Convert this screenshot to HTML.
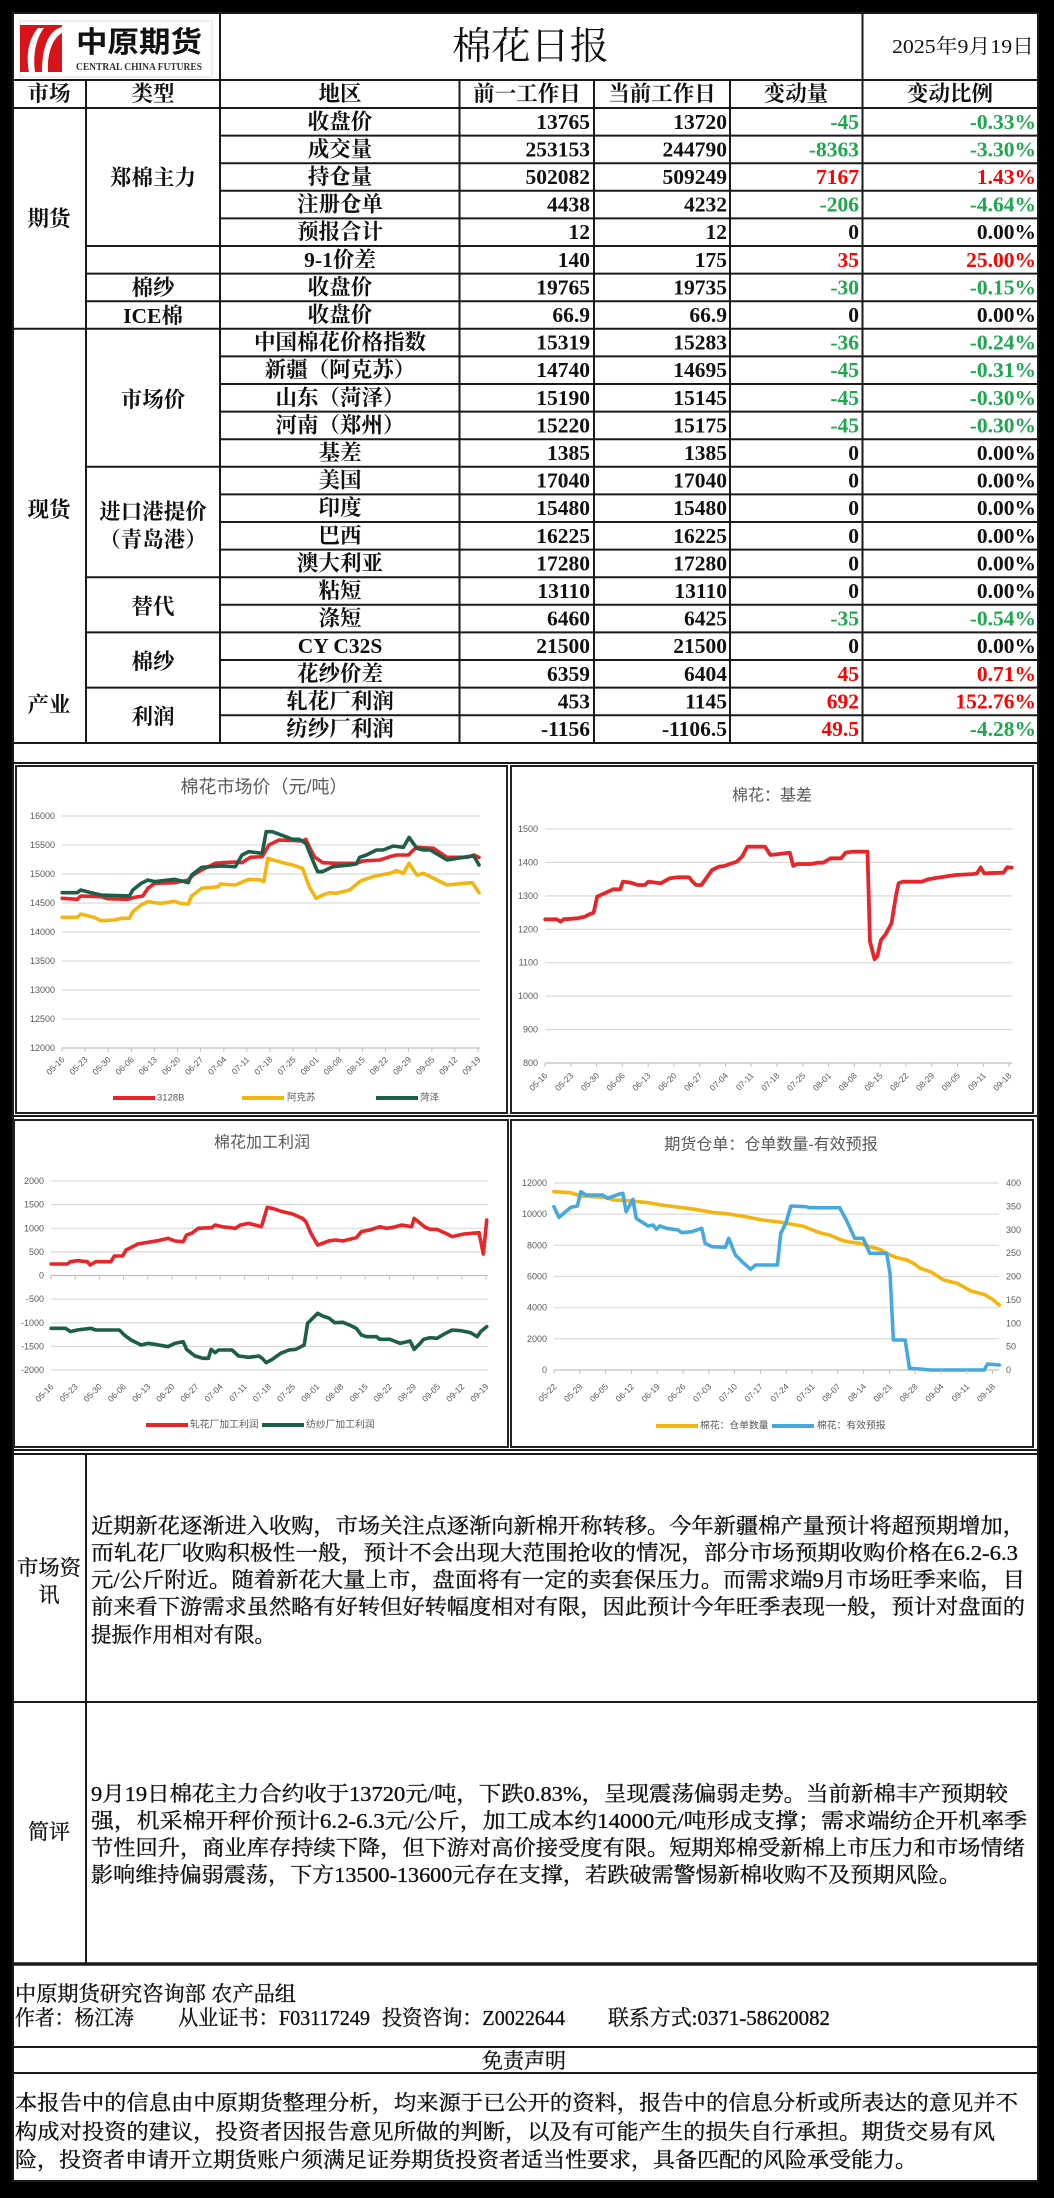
<!DOCTYPE html>
<html><head><meta charset="utf-8"><style>
html,body{margin:0;padding:0;background:#000;}
body{width:1054px;height:2198px;overflow:hidden;}
svg{display:block;}
.t{font-family:"Liberation Serif","Noto Serif CJK SC",serif;font-size:21.5px;font-weight:bold;fill:#111;}
.p{font-family:"Liberation Serif","Noto Serif CJK SC",serif;font-size:21px;fill:#111;stroke:#111;stroke-width:0.35;}
.c{font-family:"Liberation Sans","Noto Sans CJK SC",sans-serif;fill:#595959;}
.g{fill:#1ea84e;}
.r{fill:#ff0000;}
</style></head><body>
<svg width="1054" height="2198" viewBox="0 0 1054 2198" xmlns="http://www.w3.org/2000/svg">
<rect x="0" y="0" width="1054" height="2198" fill="#000"/>
<rect x="12" y="12" width="1027" height="2170" fill="#fff"/>

<!-- ===== HEADER ===== -->
<rect x="20" y="21" width="192" height="56" fill="none" stroke="#ddd" stroke-width="1"/>
<rect x="20" y="25" width="42" height="47" fill="#d7141a"/>
<path d="M29,72 C26,56 28,40 38,28 L44,28 C35,40 33,56 35,72 Z" fill="#fff"/>
<path d="M62,27 C50,30 42,44 42,72 L48,72 C47,52 53,38 62,33 Z" fill="#fff"/>
<text x="76" y="52" font-family="Noto Sans CJK SC,sans-serif" font-weight="bold" font-size="29" textLength="126" lengthAdjust="spacingAndGlyphs" fill="#111">中原期货</text>
<text x="76" y="70" font-family="Liberation Serif,serif" font-weight="bold" font-size="10" textLength="126" lengthAdjust="spacingAndGlyphs" fill="#333">CENTRAL CHINA FUTURES</text>
<text x="452" y="47" dominant-baseline="central" font-family="Liberation Serif,Noto Serif CJK SC,serif" font-size="38" textLength="157" lengthAdjust="spacingAndGlyphs" fill="#111">棉花日报</text>
<text x="892" y="47" dominant-baseline="central" font-family="Liberation Serif,Noto Serif CJK SC,serif" font-size="20" textLength="142" lengthAdjust="spacingAndGlyphs" fill="#111">2025年9月19日</text>

<!-- ===== TABLE LINES ===== -->
<g stroke="#1a1a1a" stroke-width="2">
<line x1="12" y1="13" x2="1039" y2="13"/>
<line x1="12" y1="80" x2="1039" y2="80"/>
<line x1="12" y1="108" x2="1039" y2="108"/>
<line x1="220" y1="135.6" x2="1039" y2="135.6"/>
<line x1="220" y1="163.2" x2="1039" y2="163.2"/>
<line x1="220" y1="190.8" x2="1039" y2="190.8"/>
<line x1="220" y1="218.4" x2="1039" y2="218.4"/>
<line x1="86" y1="246" x2="1039" y2="246"/>
<line x1="86" y1="273.6" x2="1039" y2="273.6"/>
<line x1="86" y1="301.2" x2="1039" y2="301.2"/>
<line x1="12" y1="328.8" x2="1039" y2="328.8"/>
<line x1="220" y1="356.4" x2="1039" y2="356.4"/>
<line x1="220" y1="384" x2="1039" y2="384"/>
<line x1="220" y1="411.6" x2="1039" y2="411.6"/>
<line x1="220" y1="439.2" x2="1039" y2="439.2"/>
<line x1="86" y1="466.8" x2="1039" y2="466.8"/>
<line x1="220" y1="494.4" x2="1039" y2="494.4"/>
<line x1="220" y1="522" x2="1039" y2="522"/>
<line x1="220" y1="549.6" x2="1039" y2="549.6"/>
<line x1="86" y1="577.2" x2="1039" y2="577.2"/>
<line x1="220" y1="604.8" x2="1039" y2="604.8"/>
<line x1="86" y1="632.4" x2="1039" y2="632.4"/>
<line x1="220" y1="660" x2="1039" y2="660"/>
<line x1="86" y1="687.6" x2="1039" y2="687.6"/>
<line x1="220" y1="715.2" x2="1039" y2="715.2"/>
<line x1="12" y1="743" x2="1039" y2="743"/>
<line x1="220" y1="12" x2="220" y2="743"/>
<line x1="862.5" y1="12" x2="862.5" y2="743"/>
<line x1="86" y1="80" x2="86" y2="743"/>
<line x1="459.5" y1="80" x2="459.5" y2="743"/>
<line x1="594" y1="80" x2="594" y2="743"/>
<line x1="730" y1="80" x2="730" y2="743"/>
<line x1="13" y1="12" x2="13" y2="2182"/>
<line x1="1038" y1="12" x2="1038" y2="2182"/>
<line x1="12" y1="763" x2="1039" y2="763"/>
<line x1="12" y1="1116" x2="1039" y2="1116"/>
<line x1="12" y1="1450" x2="1039" y2="1450"/>
<line x1="12" y1="1454" x2="1039" y2="1454"/>
<line x1="12" y1="1702" x2="1039" y2="1702"/>
<line x1="86" y1="1454" x2="86" y2="1964"/>
<line x1="12" y1="2047" x2="1039" y2="2047"/>
<line x1="12" y1="2073" x2="1039" y2="2073"/>
<line x1="12" y1="2181" x2="1039" y2="2181"/>
</g>
<line x1="12" y1="1964" x2="1039" y2="1964" stroke="#1a1a1a" stroke-width="3.5"/>
<g fill="none" stroke="#222" stroke-width="2">
<rect x="16" y="766" width="491" height="347"/>
<rect x="511" y="766" width="522" height="347"/>
<rect x="14" y="1120" width="494" height="327"/>
<rect x="511" y="1120" width="522" height="327"/>
</g>

<!-- ===== TABLE TEXT ===== -->
<g class="t" text-anchor="middle" dominant-baseline="central">
<text x="49" y="94">市场</text>
<text x="153" y="94">类型</text>
<text x="340" y="94">地区</text>
<text x="527" y="94">前一工作日</text>
<text x="662" y="94">当前工作日</text>
<text x="796" y="94">变动量</text>
<text x="950" y="94">变动比例</text>
<text x="49" y="219">期货</text>
<text x="49" y="510">现货</text>
<text x="49" y="705">产业</text>
<text x="153" y="178">郑棉主力</text>
<text x="153" y="288">棉纱</text>
<text x="153" y="316">ICE棉</text>
<text x="153" y="400">市场价</text>
<text x="153" y="512">进口港提价</text>
<text x="153" y="540">（青岛港）</text>
<text x="153" y="607">替代</text>
<text x="153" y="662">棉纱</text>
<text x="153" y="717">利润</text>
<text x="340" y="121.8">收盘价</text>
<text x="340" y="149.4">成交量</text>
<text x="340" y="177">持仓量</text>
<text x="340" y="204.6">注册仓单</text>
<text x="340" y="232.2">预报合计</text>
<text x="340" y="259.8">9-1价差</text>
<text x="340" y="287.4">收盘价</text>
<text x="340" y="315">收盘价</text>
<text x="340" y="342.6">中国棉花价格指数</text>
<text x="340" y="370.2">新疆（阿克苏）</text>
<text x="340" y="397.8">山东（菏泽）</text>
<text x="340" y="425.4">河南（郑州）</text>
<text x="340" y="453">基差</text>
<text x="340" y="480.6">美国</text>
<text x="340" y="508.2">印度</text>
<text x="340" y="535.8">巴西</text>
<text x="340" y="563.4">澳大利亚</text>
<text x="340" y="591">粘短</text>
<text x="340" y="618.6">涤短</text>
<text x="340" y="646.2">CY C32S</text>
<text x="340" y="673.8">花纱价差</text>
<text x="340" y="701.4">轧花厂利润</text>
<text x="340" y="729">纺纱厂利润</text>
</g>
<g class="t" text-anchor="end" dominant-baseline="central">
<text x="590" y="121.8">13765</text><text x="727" y="121.8">13720</text><text class="g" x="859" y="121.8">-45</text><text class="g" x="1036" y="121.8">-0.33%</text>
<text x="590" y="149.4">253153</text><text x="727" y="149.4">244790</text><text class="g" x="859" y="149.4">-8363</text><text class="g" x="1036" y="149.4">-3.30%</text>
<text x="590" y="177">502082</text><text x="727" y="177">509249</text><text class="r" x="859" y="177">7167</text><text class="r" x="1036" y="177">1.43%</text>
<text x="590" y="204.6">4438</text><text x="727" y="204.6">4232</text><text class="g" x="859" y="204.6">-206</text><text class="g" x="1036" y="204.6">-4.64%</text>
<text x="590" y="232.2">12</text><text x="727" y="232.2">12</text><text x="859" y="232.2">0</text><text x="1036" y="232.2">0.00%</text>
<text x="590" y="259.8">140</text><text x="727" y="259.8">175</text><text class="r" x="859" y="259.8">35</text><text class="r" x="1036" y="259.8">25.00%</text>
<text x="590" y="287.4">19765</text><text x="727" y="287.4">19735</text><text class="g" x="859" y="287.4">-30</text><text class="g" x="1036" y="287.4">-0.15%</text>
<text x="590" y="315">66.9</text><text x="727" y="315">66.9</text><text x="859" y="315">0</text><text x="1036" y="315">0.00%</text>
<text x="590" y="342.6">15319</text><text x="727" y="342.6">15283</text><text class="g" x="859" y="342.6">-36</text><text class="g" x="1036" y="342.6">-0.24%</text>
<text x="590" y="370.2">14740</text><text x="727" y="370.2">14695</text><text class="g" x="859" y="370.2">-45</text><text class="g" x="1036" y="370.2">-0.31%</text>
<text x="590" y="397.8">15190</text><text x="727" y="397.8">15145</text><text class="g" x="859" y="397.8">-45</text><text class="g" x="1036" y="397.8">-0.30%</text>
<text x="590" y="425.4">15220</text><text x="727" y="425.4">15175</text><text class="g" x="859" y="425.4">-45</text><text class="g" x="1036" y="425.4">-0.30%</text>
<text x="590" y="453">1385</text><text x="727" y="453">1385</text><text x="859" y="453">0</text><text x="1036" y="453">0.00%</text>
<text x="590" y="480.6">17040</text><text x="727" y="480.6">17040</text><text x="859" y="480.6">0</text><text x="1036" y="480.6">0.00%</text>
<text x="590" y="508.2">15480</text><text x="727" y="508.2">15480</text><text x="859" y="508.2">0</text><text x="1036" y="508.2">0.00%</text>
<text x="590" y="535.8">16225</text><text x="727" y="535.8">16225</text><text x="859" y="535.8">0</text><text x="1036" y="535.8">0.00%</text>
<text x="590" y="563.4">17280</text><text x="727" y="563.4">17280</text><text x="859" y="563.4">0</text><text x="1036" y="563.4">0.00%</text>
<text x="590" y="591">13110</text><text x="727" y="591">13110</text><text x="859" y="591">0</text><text x="1036" y="591">0.00%</text>
<text x="590" y="618.6">6460</text><text x="727" y="618.6">6425</text><text class="g" x="859" y="618.6">-35</text><text class="g" x="1036" y="618.6">-0.54%</text>
<text x="590" y="646.2">21500</text><text x="727" y="646.2">21500</text><text x="859" y="646.2">0</text><text x="1036" y="646.2">0.00%</text>
<text x="590" y="673.8">6359</text><text x="727" y="673.8">6404</text><text class="r" x="859" y="673.8">45</text><text class="r" x="1036" y="673.8">0.71%</text>
<text x="590" y="701.4">453</text><text x="727" y="701.4">1145</text><text class="r" x="859" y="701.4">692</text><text class="r" x="1036" y="701.4">152.76%</text>
<text x="590" y="729">-1156</text><text x="727" y="729">-1106.5</text><text class="r" x="859" y="729">49.5</text><text class="g" x="1036" y="729">-4.28%</text>
</g>

<!-- ===== CHART 1 ===== -->
<text class="c" x="264" y="787" text-anchor="middle" dominant-baseline="central" font-size="18">棉花市场价（元/吨）</text>
<g stroke="#d9d9d9" stroke-width="1.2">
<line x1="62" y1="816" x2="480" y2="816"/><line x1="62" y1="845" x2="480" y2="845"/><line x1="62" y1="874" x2="480" y2="874"/><line x1="62" y1="903" x2="480" y2="903"/><line x1="62" y1="932" x2="480" y2="932"/><line x1="62" y1="961" x2="480" y2="961"/><line x1="62" y1="990" x2="480" y2="990"/><line x1="62" y1="1019" x2="480" y2="1019"/>
</g>
<line x1="62" y1="1048" x2="480" y2="1048" stroke="#bfbfbf" stroke-width="1.2"/>
<g class="c" font-size="9" text-anchor="end" dominant-baseline="central">
<text x="55" y="816">16000</text><text x="55" y="845">15500</text><text x="55" y="874">15000</text><text x="55" y="903">14500</text><text x="55" y="932">14000</text><text x="55" y="961">13500</text><text x="55" y="990">13000</text><text x="55" y="1019">12500</text><text x="55" y="1048">12000</text>
</g>
<g transform="translate(0,740) scale(0.33613,0.33333)" fill="none" stroke-linejoin="round" stroke-linecap="round">
<polyline vector-effect="non-scaling-stroke" stroke="#e8262a" stroke-width="3.6" points="185,475 230,478 240,468 300,470 320,476 380,478 400,472 425,468 440,445 460,430 520,428 560,420 575,405 600,390 640,370 660,368 700,366 720,368 745,352 780,350 800,315 830,300 900,303 910,298 920,320 935,350 960,368 1000,370 1060,370 1080,363 1130,360 1160,350 1180,345 1215,345 1230,330 1240,322 1290,325 1330,352 1390,352 1410,345 1425,352"/>
<polyline vector-effect="non-scaling-stroke" stroke="#f3b512" stroke-width="3.6" points="185,532 230,532 240,522 280,532 300,542 340,540 360,535 385,535 395,515 420,495 440,485 460,488 480,490 520,484 535,490 560,492 570,468 600,445 650,440 655,432 700,435 740,418 775,420 785,425 797,355 830,365 850,370 870,375 900,385 920,440 940,475 960,465 980,458 1000,460 1020,455 1040,450 1070,425 1080,420 1110,410 1130,405 1160,400 1180,392 1200,400 1217,370 1240,405 1260,400 1280,410 1300,420 1330,435 1380,430 1405,428 1425,458"/>
<polyline vector-effect="non-scaling-stroke" stroke="#1d5e4b" stroke-width="3.6" points="185,458 230,458 240,450 270,458 300,465 385,468 395,450 420,430 440,420 460,425 500,420 520,418 560,428 570,405 600,382 660,378 700,380 720,345 740,335 780,340 792,275 810,275 850,290 870,298 890,298 910,310 930,360 945,395 960,395 990,380 1040,375 1060,372 1070,352 1090,345 1120,330 1140,330 1170,318 1200,322 1217,292 1240,325 1260,330 1280,330 1330,360 1390,350 1410,348 1425,375"/>
</g>
<g stroke-width="4">
<line x1="113" y1="1098" x2="155" y2="1098" stroke="#e8262a"/>
<line x1="242" y1="1098" x2="284" y2="1098" stroke="#f3b512"/>
<line x1="376" y1="1098" x2="418" y2="1098" stroke="#1d5e4b"/>
</g>
<g class="c" font-size="9.5" dominant-baseline="central">
<text x="157" y="1098">3128B</text><text x="287" y="1098">阿克苏</text><text x="420" y="1098">菏泽</text>
</g>

<!-- ===== CHART 2 ===== -->
<text class="c" x="772" y="796" text-anchor="middle" dominant-baseline="central" font-size="16">棉花：基差</text>
<g stroke="#d9d9d9" stroke-width="1.2">
<line x1="545" y1="829" x2="1012" y2="829"/><line x1="545" y1="862.4" x2="1012" y2="862.4"/><line x1="545" y1="895.9" x2="1012" y2="895.9"/><line x1="545" y1="929.3" x2="1012" y2="929.3"/><line x1="545" y1="962.7" x2="1012" y2="962.7"/><line x1="545" y1="996.1" x2="1012" y2="996.1"/><line x1="545" y1="1029.6" x2="1012" y2="1029.6"/>
</g>
<line x1="545" y1="1063" x2="1012" y2="1063" stroke="#bfbfbf" stroke-width="1.2"/>
<g class="c" font-size="9" text-anchor="end" dominant-baseline="central">
<text x="538" y="829">1500</text><text x="538" y="862.4">1400</text><text x="538" y="895.9">1300</text><text x="538" y="929.3">1200</text><text x="538" y="962.7">1100</text><text x="538" y="996.1">1000</text><text x="538" y="1029.6">900</text><text x="538" y="1063">800</text>
</g>
<g transform="translate(500,740) scale(0.35336,0.33333)" fill="none" stroke-linejoin="round" stroke-linecap="round">
<polyline vector-effect="non-scaling-stroke" stroke="#e8262a" stroke-width="3.8" points="128,538 160,538 172,545 180,538 220,535 240,530 255,522 265,518 275,470 300,458 320,448 340,448 348,425 370,428 390,435 410,435 420,425 440,428 455,430 480,415 500,412 535,412 545,425 555,435 570,435 590,405 600,390 620,380 635,378 650,372 670,365 685,350 700,320 750,320 765,345 790,342 820,338 830,378 840,372 880,372 900,368 915,368 935,355 965,355 978,338 1000,335 1040,335 1047,605 1060,658 1068,648 1078,600 1090,585 1108,550 1120,470 1128,430 1140,425 1195,425 1210,418 1240,413 1270,408 1290,405 1340,402 1350,400 1360,382 1370,400 1425,398 1435,382 1448,383"/>
</g>

<!-- ===== CHART 3 ===== -->
<text class="c" x="262" y="1143" text-anchor="middle" dominant-baseline="central" font-size="16">棉花加工利润</text>
<g stroke="#d9d9d9" stroke-width="1.2">
<line x1="51" y1="1181" x2="488" y2="1181"/><line x1="51" y1="1204.6" x2="488" y2="1204.6"/><line x1="51" y1="1228.3" x2="488" y2="1228.3"/><line x1="51" y1="1251.9" x2="488" y2="1251.9"/><line x1="51" y1="1299.1" x2="488" y2="1299.1"/><line x1="51" y1="1322.8" x2="488" y2="1322.8"/><line x1="51" y1="1346.4" x2="488" y2="1346.4"/><line x1="51" y1="1370" x2="488" y2="1370"/>
</g>
<line x1="51" y1="1275.5" x2="488" y2="1275.5" stroke="#bfbfbf" stroke-width="1.2"/>
<g class="c" font-size="9" text-anchor="end" dominant-baseline="central">
<text x="44" y="1181">2000</text><text x="44" y="1204.6">1500</text><text x="44" y="1228.3">1000</text><text x="44" y="1251.9">500</text><text x="44" y="1275.5">0</text><text x="44" y="1299.1">-500</text><text x="44" y="1322.8">-1000</text><text x="44" y="1346.4">-1500</text><text x="44" y="1370">-2000</text>
</g>
<g transform="translate(0,1110) scale(0.33613,0.33333)" fill="none" stroke-linejoin="round" stroke-linecap="round">
<polyline vector-effect="non-scaling-stroke" stroke="#e8262a" stroke-width="3.6" points="152,462 200,462 210,455 230,452 260,455 268,465 285,455 330,455 340,438 365,438 375,420 395,410 410,402 440,397 470,392 500,385 520,393 545,395 555,375 570,370 590,355 630,353 640,345 660,350 700,355 715,345 740,340 770,348 778,350 795,292 810,295 840,305 870,312 900,325 910,335 925,370 945,405 960,400 980,392 1000,390 1020,393 1060,383 1075,365 1100,360 1130,350 1150,355 1170,352 1195,345 1225,350 1232,325 1265,352 1280,358 1300,358 1330,372 1345,380 1380,372 1425,368 1438,432 1448,330"/>
<polyline vector-effect="non-scaling-stroke" stroke="#1d5e4b" stroke-width="3.6" points="152,655 195,655 210,665 230,660 270,655 285,660 355,660 370,675 390,690 420,705 440,700 460,703 500,710 520,700 545,695 555,718 580,738 605,745 620,745 628,718 640,728 650,720 690,720 710,738 740,742 770,738 780,745 792,758 810,748 835,730 860,720 880,718 905,705 915,640 935,620 945,610 960,618 980,625 995,638 1020,637 1040,645 1060,655 1075,675 1090,680 1120,680 1130,688 1160,688 1190,700 1220,693 1232,718 1250,700 1260,688 1280,683 1300,685 1320,673 1345,660 1370,662 1400,668 1420,680 1430,665 1448,650"/>
</g>
<g stroke-width="4">
<line x1="146" y1="1425" x2="188" y2="1425" stroke="#e8262a"/>
<line x1="262" y1="1425" x2="304" y2="1425" stroke="#1d5e4b"/>
</g>
<g class="c" font-size="9.8" dominant-baseline="central">
<text x="190" y="1425">轧花厂加工利润</text><text x="306" y="1425">纺纱厂加工利润</text>
</g>

<!-- ===== CHART 4 ===== -->
<text class="c" x="771" y="1145" text-anchor="middle" dominant-baseline="central" font-size="16">期货仓单：仓单数量-有效预报</text>
<g stroke="#d9d9d9" stroke-width="1.2">
<line x1="554" y1="1183" x2="999" y2="1183"/><line x1="554" y1="1214.2" x2="999" y2="1214.2"/><line x1="554" y1="1245.3" x2="999" y2="1245.3"/><line x1="554" y1="1276.5" x2="999" y2="1276.5"/><line x1="554" y1="1307.7" x2="999" y2="1307.7"/><line x1="554" y1="1338.8" x2="999" y2="1338.8"/>
</g>
<line x1="554" y1="1370" x2="999" y2="1370" stroke="#bfbfbf" stroke-width="1.2"/>
<g class="c" font-size="9" text-anchor="end" dominant-baseline="central">
<text x="547" y="1183">12000</text><text x="547" y="1214.2">10000</text><text x="547" y="1245.3">8000</text><text x="547" y="1276.5">6000</text><text x="547" y="1307.7">4000</text><text x="547" y="1338.8">2000</text><text x="547" y="1370">0</text>
</g>
<g class="c" font-size="9" dominant-baseline="central">
<text x="1006" y="1183">400</text><text x="1006" y="1206.4">350</text><text x="1006" y="1229.8">300</text><text x="1006" y="1253.1">250</text><text x="1006" y="1276.5">200</text><text x="1006" y="1299.9">150</text><text x="1006" y="1323.3">100</text><text x="1006" y="1346.6">50</text><text x="1006" y="1370">0</text>
</g>
<g transform="translate(527,1110) scale(0.33613,0.33333)" fill="none" stroke-linejoin="round" stroke-linecap="round">
<polyline vector-effect="non-scaling-stroke" stroke="#f3b512" stroke-width="3.6" points="80,245 130,248 160,258 230,262 260,270 300,272 360,278 400,285 440,290 500,298 550,307 600,312 650,320 700,330 750,336 800,345 820,348 870,368 900,375 940,392 960,396 990,400 1020,410 1050,418 1080,435 1100,443 1130,450 1150,460 1170,475 1200,485 1240,510 1280,520 1320,543 1360,553 1385,568 1405,585"/>
<polyline vector-effect="non-scaling-stroke" stroke="#45a9e0" stroke-width="3.6" points="80,290 95,322 130,292 150,288 160,245 175,255 225,255 240,265 275,252 285,250 295,305 315,268 325,325 360,348 375,345 385,358 395,348 415,355 450,360 460,368 490,365 520,355 530,400 550,410 590,412 600,385 620,435 640,455 665,478 680,465 745,465 755,370 770,340 785,288 830,290 840,293 930,293 950,330 975,385 1000,385 1020,430 1070,430 1080,490 1090,690 1125,690 1138,775 1170,777 1200,780 1360,780 1370,762 1405,765"/>
</g>
<g stroke-width="4">
<line x1="656" y1="1426" x2="698" y2="1426" stroke="#f3b512"/>
<line x1="772" y1="1426" x2="814" y2="1426" stroke="#45a9e0"/>
</g>
<g class="c" font-size="9.8" dominant-baseline="central">
<text x="700" y="1426">棉花：仓单数量</text><text x="817" y="1426">棉花：有效预报</text>
</g>

<!-- ===== X LABELS ===== -->
<g class="c" font-size="8.5" text-anchor="end" dominant-baseline="central">
<text transform="translate(63,1058) rotate(-45)">05-16</text>
<text transform="translate(86.1,1058) rotate(-45)">05-23</text>
<text transform="translate(109.2,1058) rotate(-45)">05-30</text>
<text transform="translate(132.3,1058) rotate(-45)">06-06</text>
<text transform="translate(155.4,1058) rotate(-45)">06-13</text>
<text transform="translate(178.6,1058) rotate(-45)">06-20</text>
<text transform="translate(201.7,1058) rotate(-45)">06-27</text>
<text transform="translate(224.8,1058) rotate(-45)">07-04</text>
<text transform="translate(247.9,1058) rotate(-45)">07-11</text>
<text transform="translate(271,1058) rotate(-45)">07-18</text>
<text transform="translate(294.1,1058) rotate(-45)">07-25</text>
<text transform="translate(317.2,1058) rotate(-45)">08-01</text>
<text transform="translate(340.3,1058) rotate(-45)">08-08</text>
<text transform="translate(363.4,1058) rotate(-45)">08-15</text>
<text transform="translate(386.5,1058) rotate(-45)">08-22</text>
<text transform="translate(409.7,1058) rotate(-45)">08-29</text>
<text transform="translate(432.8,1058) rotate(-45)">09-05</text>
<text transform="translate(455.9,1058) rotate(-45)">09-12</text>
<text transform="translate(479,1058) rotate(-45)">09-19</text>

<text transform="translate(546,1074) rotate(-45)">05-16</text>
<text transform="translate(571.8,1074) rotate(-45)">05-23</text>
<text transform="translate(597.6,1074) rotate(-45)">05-30</text>
<text transform="translate(623.3,1074) rotate(-45)">06-06</text>
<text transform="translate(649.1,1074) rotate(-45)">06-13</text>
<text transform="translate(674.9,1074) rotate(-45)">06-20</text>
<text transform="translate(700.7,1074) rotate(-45)">06-27</text>
<text transform="translate(726.5,1074) rotate(-45)">07-04</text>
<text transform="translate(752.2,1074) rotate(-45)">07-11</text>
<text transform="translate(778,1074) rotate(-45)">07-18</text>
<text transform="translate(803.8,1074) rotate(-45)">07-25</text>
<text transform="translate(829.6,1074) rotate(-45)">08-01</text>
<text transform="translate(855.4,1074) rotate(-45)">08-08</text>
<text transform="translate(881.1,1074) rotate(-45)">08-15</text>
<text transform="translate(906.9,1074) rotate(-45)">08-22</text>
<text transform="translate(932.7,1074) rotate(-45)">08-29</text>
<text transform="translate(958.5,1074) rotate(-45)">09-05</text>
<text transform="translate(984.3,1074) rotate(-45)">09-11</text>
<text transform="translate(1010,1074) rotate(-45)">09-18</text>

<text transform="translate(52,1385) rotate(-45)">05-16</text>
<text transform="translate(76.2,1385) rotate(-45)">05-23</text>
<text transform="translate(100.3,1385) rotate(-45)">05-30</text>
<text transform="translate(124.5,1385) rotate(-45)">06-06</text>
<text transform="translate(148.7,1385) rotate(-45)">06-13</text>
<text transform="translate(172.9,1385) rotate(-45)">06-20</text>
<text transform="translate(197,1385) rotate(-45)">06-27</text>
<text transform="translate(221.2,1385) rotate(-45)">07-04</text>
<text transform="translate(245.4,1385) rotate(-45)">07-11</text>
<text transform="translate(269.5,1385) rotate(-45)">07-18</text>
<text transform="translate(293.7,1385) rotate(-45)">07-25</text>
<text transform="translate(317.9,1385) rotate(-45)">08-01</text>
<text transform="translate(342,1385) rotate(-45)">08-08</text>
<text transform="translate(366.2,1385) rotate(-45)">08-15</text>
<text transform="translate(390.4,1385) rotate(-45)">08-22</text>
<text transform="translate(414.6,1385) rotate(-45)">08-29</text>
<text transform="translate(438.7,1385) rotate(-45)">09-05</text>
<text transform="translate(462.9,1385) rotate(-45)">09-12</text>
<text transform="translate(487,1385) rotate(-45)">09-19</text>

<text transform="translate(555,1385) rotate(-45)">05-22</text>
<text transform="translate(580.8,1385) rotate(-45)">05-29</text>
<text transform="translate(606.6,1385) rotate(-45)">06-05</text>
<text transform="translate(632.4,1385) rotate(-45)">06-12</text>
<text transform="translate(658.2,1385) rotate(-45)">06-19</text>
<text transform="translate(684,1385) rotate(-45)">06-26</text>
<text transform="translate(709.8,1385) rotate(-45)">07-03</text>
<text transform="translate(735.6,1385) rotate(-45)">07-10</text>
<text transform="translate(761.4,1385) rotate(-45)">07-17</text>
<text transform="translate(787.2,1385) rotate(-45)">07-24</text>
<text transform="translate(813,1385) rotate(-45)">07-31</text>
<text transform="translate(838.8,1385) rotate(-45)">08-07</text>
<text transform="translate(864.6,1385) rotate(-45)">08-14</text>
<text transform="translate(890.4,1385) rotate(-45)">08-21</text>
<text transform="translate(916.2,1385) rotate(-45)">08-28</text>
<text transform="translate(942,1385) rotate(-45)">09-04</text>
<text transform="translate(967.8,1385) rotate(-45)">09-11</text>
<text transform="translate(993.6,1385) rotate(-45)">09-18</text>
</g>
<g stroke="#bfbfbf" stroke-width="1">
<path d="M62,1048v4M85.1,1048v4M108.2,1048v4M131.3,1048v4M154.4,1048v4M177.6,1048v4M200.7,1048v4M223.8,1048v4M246.9,1048v4M270,1048v4M293.1,1048v4M316.2,1048v4M339.3,1048v4M362.4,1048v4M385.5,1048v4M408.7,1048v4M431.8,1048v4M454.9,1048v4M478,1048v4"/>
<path d="M545,1063v4M570.8,1063v4M596.6,1063v4M622.3,1063v4M648.1,1063v4M673.9,1063v4M699.7,1063v4M725.5,1063v4M751.2,1063v4M777,1063v4M802.8,1063v4M828.6,1063v4M854.4,1063v4M880.1,1063v4M905.9,1063v4M931.7,1063v4M957.5,1063v4M983.3,1063v4M1009,1063v4"/>
<path d="M51,1275.5v4M75.2,1275.5v4M99.3,1275.5v4M123.5,1275.5v4M147.7,1275.5v4M171.9,1275.5v4M196,1275.5v4M220.2,1275.5v4M244.4,1275.5v4M268.5,1275.5v4M292.7,1275.5v4M316.9,1275.5v4M341,1275.5v4M365.2,1275.5v4M389.4,1275.5v4M413.6,1275.5v4M437.7,1275.5v4M461.9,1275.5v4M486,1275.5v4"/>
<path d="M554,1370v4M579.8,1370v4M605.6,1370v4M631.4,1370v4M657.2,1370v4M683,1370v4M708.8,1370v4M734.6,1370v4M760.4,1370v4M786.2,1370v4M812,1370v4M837.8,1370v4M863.6,1370v4M889.4,1370v4M915.2,1370v4M941,1370v4M966.8,1370v4M992.6,1370v4"/>
</g>

<!-- ===== 市场资讯 / 简评 ===== -->
<g class="p" text-anchor="middle" dominant-baseline="central" font-size="21">
<text x="49" y="1568" textLength="64" lengthAdjust="spacingAndGlyphs">市场资</text>
<text x="49" y="1595">讯</text>
<text x="49" y="1832">简评</text>
</g>
<g class="p" dominant-baseline="central">
<text x="91" y="1526" textLength="934" lengthAdjust="spacingAndGlyphs">近期新花逐渐进入收购，市场关注点逐渐向新棉开称转移。今年新疆棉产量预计将超预期增加，</text>
<text x="91" y="1553" textLength="927" lengthAdjust="spacingAndGlyphs">而轧花厂收购积极性一般，预计不会出现大范围抢收的情况，部分市场预期收购价格在6.2-6.3</text>
<text x="91" y="1580" textLength="934" lengthAdjust="spacingAndGlyphs">元/公斤附近。随着新花大量上市，盘面将有一定的卖套保压力。而需求端9月市场旺季来临，目</text>
<text x="91" y="1607" textLength="934" lengthAdjust="spacingAndGlyphs">前来看下游需求虽然略有好转但好转幅度相对有限，因此预计今年旺季表现一般，预计对盘面的</text>
<text x="91" y="1635" textLength="184" lengthAdjust="spacingAndGlyphs">提振作用相对有限。</text>

<text x="91" y="1794" textLength="917" lengthAdjust="spacingAndGlyphs">9月19日棉花主力合约收于13720元/吨，下跌0.83%，呈现震荡偏弱走势。当前新棉丰产预期较</text>
<text x="91" y="1821" textLength="936" lengthAdjust="spacingAndGlyphs">强，机采棉开秤价预计6.2-6.3元/公斤，加工成本约14000元/吨形成支撑；需求端纺企开机率季</text>
<text x="91" y="1848" textLength="934" lengthAdjust="spacingAndGlyphs">节性回升，商业库存持续下降，但下游对高价接受度有限。短期郑棉受新棉上市压力和市场情绪</text>
<text x="91" y="1875" textLength="870" lengthAdjust="spacingAndGlyphs">影响维持偏弱震荡，下方13500-13600元存在支撑，若跌破需警惕新棉收购不及预期风险。</text>

<text x="15" y="1994" textLength="281" lengthAdjust="spacingAndGlyphs">中原期货研究咨询部  农产品组</text>
<text x="15" y="2018" textLength="119" lengthAdjust="spacingAndGlyphs">作者：杨江涛</text>
<text x="178" y="2018" textLength="192" lengthAdjust="spacingAndGlyphs">从业证书：F03117249</text>
<text x="382" y="2018" textLength="183" lengthAdjust="spacingAndGlyphs">投资咨询：Z0022644</text>
<text x="608" y="2018" textLength="222" lengthAdjust="spacingAndGlyphs">联系方式:0371-58620082</text>

<text x="524" y="2061" text-anchor="middle">免责声明</text>

<text x="15" y="2103" textLength="1003" lengthAdjust="spacingAndGlyphs">本报告中的信息由中原期货整理分析，均来源于已公开的资料，报告中的信息分析或所表达的意见并不</text>
<text x="15" y="2132" textLength="980" lengthAdjust="spacingAndGlyphs">构成对投资的建议，投资者因报告意见所做的判断，以及有可能产生的损失自行承担。期货交易有风</text>
<text x="15" y="2160" textLength="902" lengthAdjust="spacingAndGlyphs">险，投资者申请开立期货账户须满足证券期货投资者适当性要求，具备匹配的风险承受能力。</text>
</g>
</svg>
</body></html>
